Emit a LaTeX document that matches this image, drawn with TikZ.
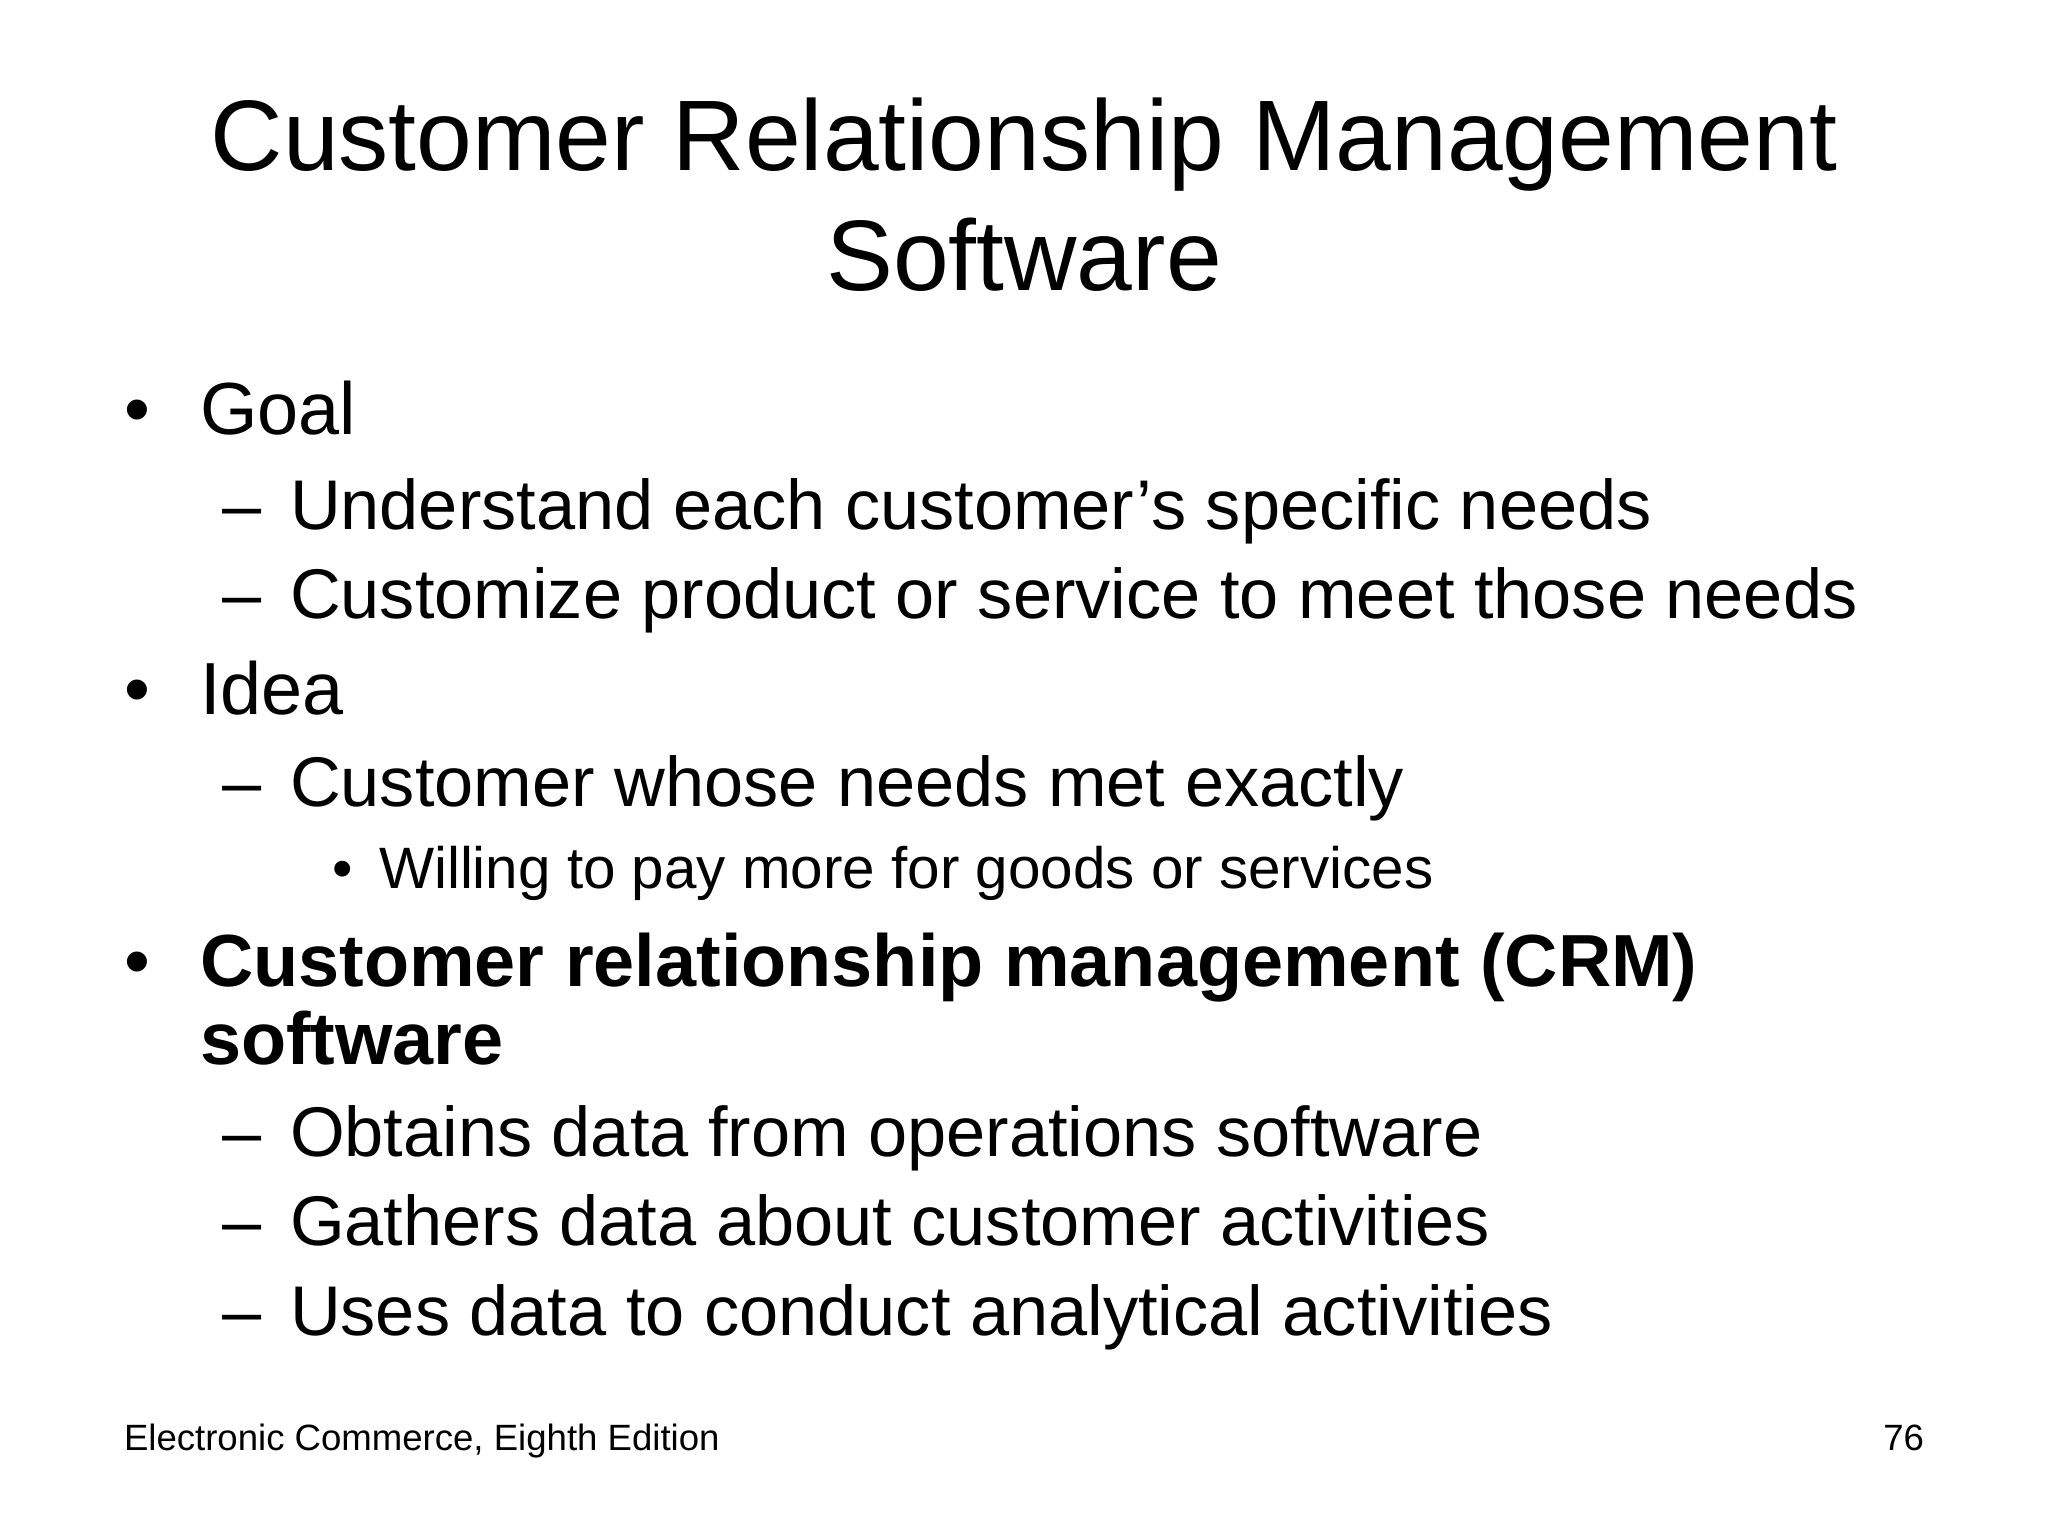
\documentclass[tikz,border=0pt]{standalone}
\usepackage{fontspec}
\setmainfont{Liberation Sans}
\begin{document}
\begin{tikzpicture}[x=0.01cm,y=-0.01cm,
  every node/.style={inner sep=0pt,outer sep=0pt},
  ttl/.style={anchor=base,font=\fontsize{28.5}{34}\selectfont},
  lone/.style={anchor=base west,font=\fontsize{21}{25}\selectfont},
  ltwo/.style={anchor=base west,font=\fontsize{20}{24}\selectfont},
  lthree/.style={anchor=base west,font=\fontsize{16.6}{20}\selectfont},
  foot/.style={font=\fontsize{10.4}{12}\selectfont}]
\useasboundingbox[fill=white] (0,0) rectangle (2048,1536);
\node[ttl] (t1) at (1024,170) {Customer Relationship Management};
\node[ttl] (t2) at (1024,290) {Software};
% level 1
\node[lone] (b1) at (124,434) {•};
\node[lone] (goal) at (200,434) {Goal};
\node[ltwo] (d1) at (222,529) {–};
\node[ltwo] (s1) at (290,529) {Understand each customer’s specific needs};
\node[ltwo] (d2) at (222,618) {–};
\node[ltwo] (s2) at (290,618) {Customize product or service to meet those needs};
\node[lone] (b2) at (124,714) {•};
\node[lone] (idea) at (200,714) {Idea};
\node[ltwo] (d3) at (222,806) {–};
\node[ltwo] (s3) at (290,806) {Customer whose needs met exactly};
\node[lthree] (b3) at (332,888) {•};
\node[lthree] (s4) at (379,888) {Willing to pay more for goods or services};
\node[lone] (b4) at (124,986) {•};
\node[lone,font=\fontsize{21}{25}\selectfont\bfseries] (crm) at (200,986) {Customer relationship management (CRM)};
\node[lone,font=\fontsize{21}{25}\selectfont\bfseries] (crm2) at (200,1064) {software};
\node[ltwo] (d5) at (222,1156) {–};
\node[ltwo] (s5) at (290,1156) {Obtains data from operations software};
\node[ltwo] (d6) at (222,1245) {–};
\node[ltwo] (s6) at (290,1245) {Gathers data about customer activities};
\node[ltwo] (d7) at (222,1335) {–};
\node[ltwo] (s7) at (290,1335) {Uses data to conduct analytical activities};
\node[foot,anchor=base west] (f1) at (124,1450) {Electronic Commerce, Eighth Edition};
\node[foot,anchor=base east] (f2) at (1924,1450) {76};
\end{tikzpicture}
\end{document}
